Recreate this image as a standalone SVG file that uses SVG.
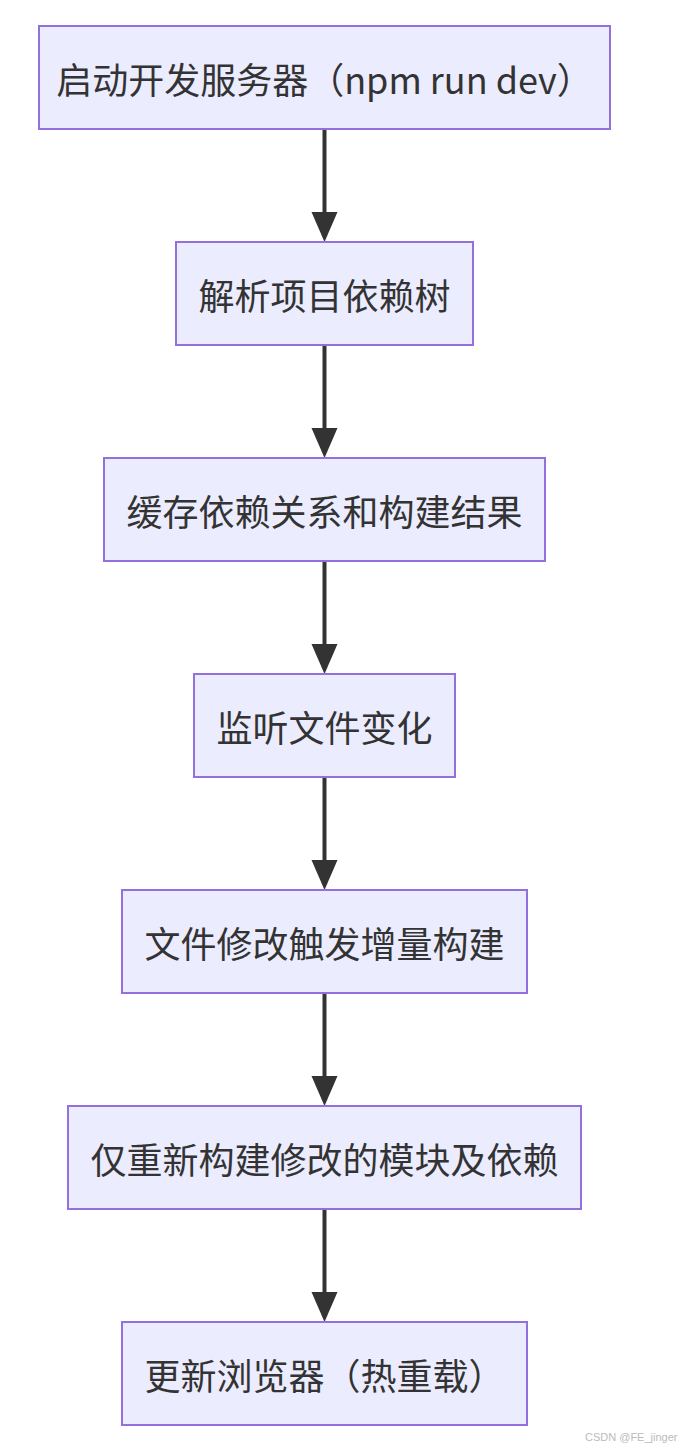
<svg xmlns="http://www.w3.org/2000/svg" width="690" height="1450" viewBox="0 0 690 1450">
<defs>
<style>
.node rect{fill:#ECECFF;stroke:#9370DB;stroke-width:2}
.node text{font-family:"Noto Sans CJK SC","Noto Sans",sans-serif;font-size:36px;fill:#333;text-anchor:middle;dominant-baseline:central}
.edge{stroke:#333;stroke-width:4;fill:none}
.wm{font-family:"Liberation Sans",sans-serif;font-size:11px;fill:#bbb}
</style>
</defs>
<rect width="690" height="1450" fill="#fff"/>
<g id="connectors">
<line class="edge" x1="324.5" y1="129" x2="324.5" y2="212"/><path d="M311.5,212 L337.5,212 L324.5,242 Z" fill="#333"/>
<line class="edge" x1="324.5" y1="345" x2="324.5" y2="428"/><path d="M311.5,428 L337.5,428 L324.5,458 Z" fill="#333"/>
<line class="edge" x1="324.5" y1="561" x2="324.5" y2="644"/><path d="M311.5,644 L337.5,644 L324.5,674 Z" fill="#333"/>
<line class="edge" x1="324.5" y1="777" x2="324.5" y2="860"/><path d="M311.5,860 L337.5,860 L324.5,890 Z" fill="#333"/>
<line class="edge" x1="324.5" y1="993" x2="324.5" y2="1076"/><path d="M311.5,1076 L337.5,1076 L324.5,1106 Z" fill="#333"/>
<line class="edge" x1="324.5" y1="1209" x2="324.5" y2="1292"/><path d="M311.5,1292 L337.5,1292 L324.5,1322 Z" fill="#333"/>
</g>
<g id="n1" class="node"><rect x="39" y="26" width="571" height="103"/><text x="324.5" y="77.5">启动开发服务器（npm run dev）</text></g>
<g id="n2" class="node"><rect x="176" y="242" width="297" height="103"/><text x="324.5" y="293.5">解析项目依赖树</text></g>
<g id="n3" class="node"><rect x="104" y="458" width="441" height="103"/><text x="324.5" y="509.5">缓存依赖关系和构建结果</text></g>
<g id="n4" class="node"><rect x="194" y="674" width="261" height="103"/><text x="324.5" y="725.5">监听文件变化</text></g>
<g id="n5" class="node"><rect x="122" y="890" width="405" height="103"/><text x="324.5" y="941.5">文件修改触发增量构建</text></g>
<g id="n6" class="node"><rect x="68" y="1106" width="513" height="103"/><text x="324.5" y="1157.5">仅重新构建修改的模块及依赖</text></g>
<g id="n7" class="node"><rect x="122" y="1322" width="405" height="103"/><text x="324.5" y="1373.5">更新浏览器（热重载）</text></g>
<text class="wm" x="585" y="1441">CSDN @FE_jinger</text>
</svg>
